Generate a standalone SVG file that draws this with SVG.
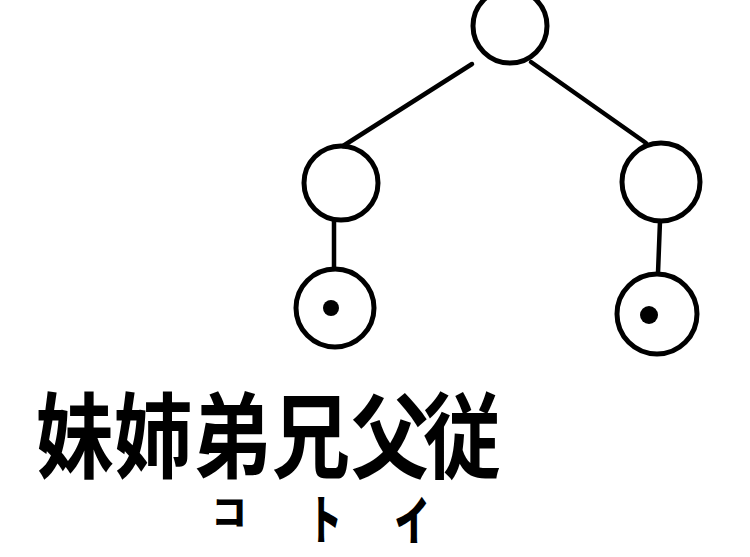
<svg xmlns="http://www.w3.org/2000/svg" width="750" height="557" viewBox="0 0 750 557">
<style>
.n{fill:none;stroke:#000;stroke-width:5}
.d{fill:#000}
.c{stroke:#000;stroke-width:4.5;fill:none;stroke-linecap:round}
.t{font-family:"Noto Sans CJK JP","Noto Sans CJK SC",sans-serif;font-weight:700;fill:#000;text-anchor:middle;dominant-baseline:central}
.k{font-size:78px}
.s{font-size:44px;font-weight:900}
</style>
<rect width="750" height="557" fill="#fff"/>
<g id="connectors">
<line class="c" x1="472" y1="64" x2="343" y2="146"/>
<line class="c" x1="531" y1="62" x2="646" y2="143"/>
<line class="c" x1="334" y1="220" x2="334" y2="269"/>
<line class="c" x1="660" y1="221" x2="658" y2="273"/>
</g>
<g id="root"><circle class="n" cx="510" cy="26" r="37"/></g>
<g id="left-parent"><circle class="n" cx="341" cy="183" r="37"/></g>
<g id="right-parent"><circle class="n" cx="661" cy="182" r="39"/></g>
<g id="left-child"><circle class="n" cx="335" cy="308" r="39"/><circle class="d" cx="331" cy="308" r="8"/></g>
<g id="right-child"><circle class="n" cx="657" cy="314" r="40"/><circle class="d" cx="649" cy="315" r="9"/></g>
<g id="label">
<text class="t k" transform="translate(75,430) scale(1,1.2)">妹</text>
<text class="t k" transform="translate(153,430) scale(1,1.2)">姉</text>
<text class="t k" transform="translate(232,430) scale(1,1.2)">弟</text>
<text class="t k" transform="translate(311,430) scale(1,1.2)">兄</text>
<text class="t k" transform="translate(390,430) scale(1,1.2)">父</text>
<text class="t k" transform="translate(462,430) scale(1,1.2)">従</text>
<text class="t s" transform="translate(229,509) scale(0.8,0.8)">コ</text>
<text class="t s" transform="translate(325,516) scale(0.75,1.2)">ト</text>
<text class="t s" transform="translate(412,517) scale(0.8,1.2)">イ</text>
</g>
</svg>
